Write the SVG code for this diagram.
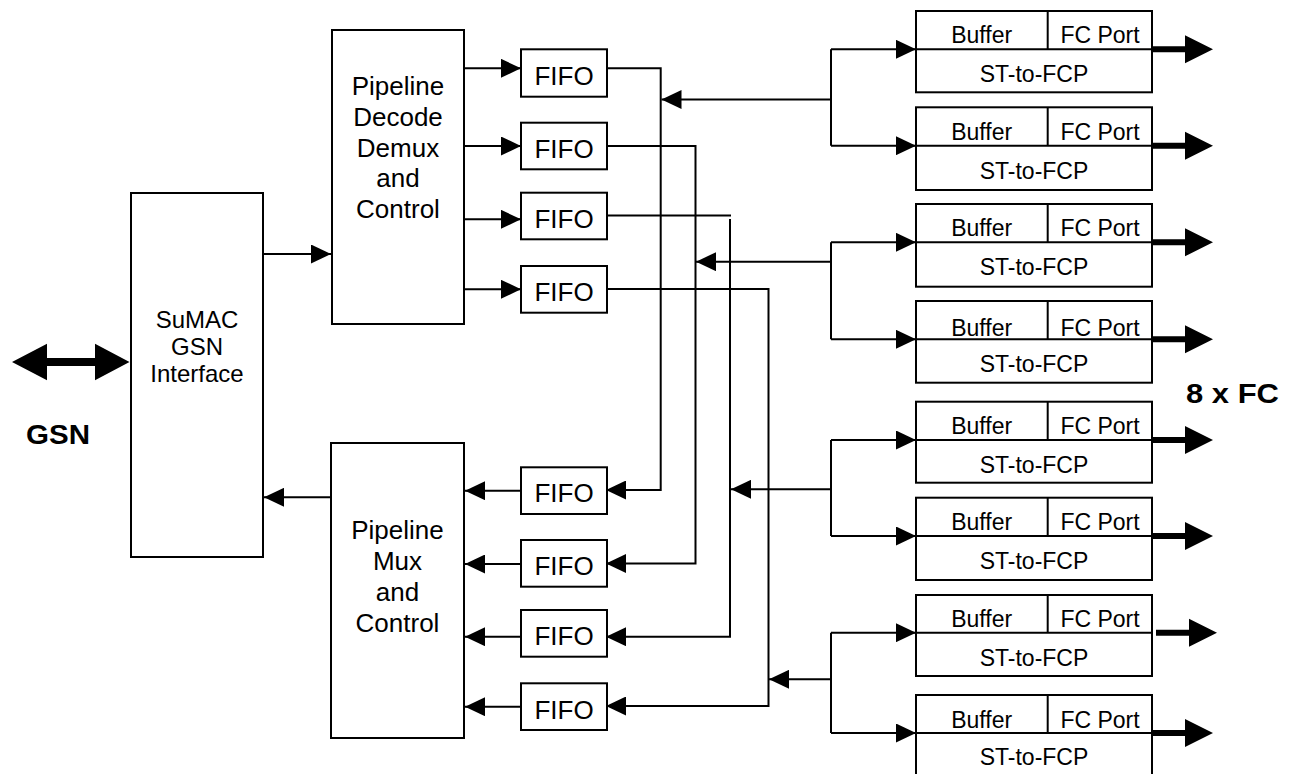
<svg xmlns="http://www.w3.org/2000/svg" width="1293" height="774" viewBox="0 0 1293 774">
<style>
.box{fill:#fff;stroke:#000;stroke-width:2}
.ln{fill:none;stroke:#000;stroke-width:2}
.t{font-family:"Liberation Sans",Arial,sans-serif;font-size:26px;text-anchor:middle;fill:#000}
.t2{font-family:"Liberation Sans",Arial,sans-serif;font-size:24px;text-anchor:middle;fill:#000}
.s{font-family:"Liberation Sans",Arial,sans-serif;font-size:23px;text-anchor:middle;fill:#000}
.b{font-family:"Liberation Sans",Arial,sans-serif;font-size:28px;font-weight:bold;fill:#000}
.thick{fill:#000;stroke:none}
</style>
<defs>
<marker id="ah" viewBox="0 0 20 19" markerWidth="20" markerHeight="19" refX="20" refY="9.5" orient="auto" markerUnits="userSpaceOnUse">
<path d="M0,0 L20,9.5 L0,19 z" fill="#000"/>
</marker>
</defs>
<rect width="1293" height="774" fill="#fff"/>

<g id="connectors">
<!-- GSN double arrow -->
<polygon class="thick" points="12,362 47,343.7 47,358 95,358 95,343.7 129.5,362 95,380.3 95,366 47,366 47,380.3"/>
<!-- SuMAC <-> pipelines -->
<line class="ln" x1="263" y1="254" x2="331" y2="254" marker-end="url(#ah)"/>
<line class="ln" x1="331" y1="497.3" x2="264" y2="497.3" marker-end="url(#ah)"/>
<!-- decode to FIFOs -->
<line class="ln" x1="464" y1="68.3" x2="521" y2="68.3" marker-end="url(#ah)"/>
<line class="ln" x1="464" y1="146" x2="521" y2="146" marker-end="url(#ah)"/>
<line class="ln" x1="464" y1="219.3" x2="521" y2="219.3" marker-end="url(#ah)"/>
<line class="ln" x1="464" y1="289.3" x2="521" y2="289.3" marker-end="url(#ah)"/>
<!-- FIFOs to mux -->
<line class="ln" x1="521" y1="490.7" x2="465" y2="490.7" marker-end="url(#ah)"/>
<line class="ln" x1="521" y1="564" x2="465" y2="564" marker-end="url(#ah)"/>
<line class="ln" x1="521" y1="636.7" x2="465" y2="636.7" marker-end="url(#ah)"/>
<line class="ln" x1="521" y1="706.7" x2="465" y2="706.7" marker-end="url(#ah)"/>
<!-- FIFO loop wires -->
<path class="ln" d="M607,68.3 H660.7 V490 H606" marker-end="url(#ah)"/>
<path class="ln" d="M607,146 H695.5 V563.5 H606" marker-end="url(#ah)"/>
<path class="ln" d="M607,215.5 H731"/>
<path class="ln" d="M730,219 V636.7 H606" marker-end="url(#ah)"/>
<path class="ln" d="M607,289 H768.5 V706 H606" marker-end="url(#ah)"/>
<!-- branches to FC boxes -->
<path class="ln" d="M831,49.3 V145.7"/>
<line class="ln" x1="831" y1="49.3" x2="916" y2="49.3" marker-end="url(#ah)"/>
<line class="ln" x1="831" y1="145.7" x2="916" y2="145.7" marker-end="url(#ah)"/>
<line class="ln" x1="831" y1="99.5" x2="661.5" y2="99.5" marker-end="url(#ah)"/>

<path class="ln" d="M831,242.3 V339.3"/>
<line class="ln" x1="831" y1="242.3" x2="916" y2="242.3" marker-end="url(#ah)"/>
<line class="ln" x1="831" y1="339.3" x2="916" y2="339.3" marker-end="url(#ah)"/>
<line class="ln" x1="831" y1="261.7" x2="696" y2="261.7" marker-end="url(#ah)"/>

<path class="ln" d="M831,440 V536"/>
<line class="ln" x1="831" y1="440" x2="916" y2="440" marker-end="url(#ah)"/>
<line class="ln" x1="831" y1="536" x2="916" y2="536" marker-end="url(#ah)"/>
<line class="ln" x1="831" y1="489.3" x2="731" y2="489.3" marker-end="url(#ah)"/>

<path class="ln" d="M831,632.7 V733"/>
<line class="ln" x1="831" y1="632.7" x2="916" y2="632.7" marker-end="url(#ah)"/>
<line class="ln" x1="831" y1="733" x2="916" y2="733" marker-end="url(#ah)"/>
<line class="ln" x1="831" y1="679.3" x2="769" y2="679.3" marker-end="url(#ah)"/>

<!-- thick FC output arrows -->
<polygon class="thick" points="1152,46.3 1185,46.3 1185,35.3 1213,49.3 1185,63.3 1185,52.3 1152,52.3"/>
<polygon class="thick" points="1152,142.7 1185,142.7 1185,131.7 1213,145.7 1185,159.7 1185,148.7 1152,148.7"/>
<polygon class="thick" points="1152,239.3 1185,239.3 1185,228.3 1213,242.3 1185,256.3 1185,245.3 1152,245.3"/>
<polygon class="thick" points="1152,336.3 1185,336.3 1185,325.3 1213,339.3 1185,353.3 1185,342.3 1152,342.3"/>
<polygon class="thick" points="1152,437 1185,437 1185,426 1213,440 1185,454 1185,443 1152,443"/>
<polygon class="thick" points="1152,533 1185,533 1185,522 1213,536 1185,550 1185,539 1152,539"/>
<polygon class="thick" points="1156,629.7 1189,629.7 1189,618.7 1217,632.7 1189,646.7 1189,635.7 1156,635.7"/>
<polygon class="thick" points="1152,730 1185,730 1185,719 1213,733 1185,747 1185,736 1152,736"/>
</g>

<g id="sumac">
<rect class="box" x="131" y="193" width="132" height="364"/>
<text class="t2" x="197" y="328">SuMAC</text>
<text class="t2" x="197" y="355">GSN</text>
<text class="t2" x="197" y="382">Interface</text>
</g>
<g id="gsn-label"><text class="b" x="26" y="443.5" textLength="64" lengthAdjust="spacingAndGlyphs">GSN</text></g>

<g id="decode">
<rect class="box" x="332" y="30" width="132" height="294"/>
<text class="t" x="398" y="95">Pipeline</text>
<text class="t" x="398" y="125.8">Decode</text>
<text class="t" x="398" y="156.6">Demux</text>
<text class="t" x="398" y="187.4">and</text>
<text class="t" x="398" y="218.2">Control</text>
</g>

<g id="mux">
<rect class="box" x="331" y="443" width="133" height="295"/>
<text class="t" x="397.5" y="539.3">Pipeline</text>
<text class="t" x="397.5" y="570.1">Mux</text>
<text class="t" x="397.5" y="600.9">and</text>
<text class="t" x="397.5" y="631.7">Control</text>
</g>

<g id="fifo1"><rect class="box" x="521" y="49.3" width="86" height="47.4"/><text class="t" x="564" y="85">FIFO</text></g>
<g id="fifo2"><rect class="box" x="521" y="122.7" width="86" height="46.6"/><text class="t" x="564" y="157.7">FIFO</text></g>
<g id="fifo3"><rect class="box" x="521" y="192.7" width="86" height="46.6"/><text class="t" x="564" y="227.5">FIFO</text></g>
<g id="fifo4"><rect class="box" x="521" y="266" width="86" height="46.7"/><text class="t" x="564" y="301">FIFO</text></g>
<g id="fifo5"><rect class="box" x="521" y="467.3" width="86" height="46.7"/><text class="t" x="564" y="502.3">FIFO</text></g>
<g id="fifo6"><rect class="box" x="521" y="540" width="86" height="46.7"/><text class="t" x="564" y="575.3">FIFO</text></g>
<g id="fifo7"><rect class="box" x="521" y="610" width="86" height="46.7"/><text class="t" x="564" y="645.3">FIFO</text></g>
<g id="fifo8"><rect class="box" x="521" y="683.3" width="86" height="46.7"/><text class="t" x="564" y="718.5">FIFO</text></g>

<g id="fc1"><rect class="box" x="916" y="11" width="236" height="81.3"/><line class="ln" x1="916" y1="49.3" x2="1152" y2="49.3"/><line class="ln" x1="1047.7" y1="11" x2="1047.7" y2="49.3"/><text class="s" x="981.7" y="43.3">Buffer</text><text class="s" x="1100" y="43.3">FC Port</text><text class="s" x="1034" y="82.3">ST-to-FCP</text></g>
<g id="fc2"><rect class="box" x="916" y="107.3" width="236" height="82.7"/><line class="ln" x1="916" y1="145.7" x2="1152" y2="145.7"/><line class="ln" x1="1047.7" y1="107.3" x2="1047.7" y2="145.7"/><text class="s" x="981.7" y="139.6">Buffer</text><text class="s" x="1100" y="139.6">FC Port</text><text class="s" x="1034" y="178.7">ST-to-FCP</text></g>
<g id="fc3"><rect class="box" x="916" y="204" width="236" height="82.7"/><line class="ln" x1="916" y1="242.3" x2="1152" y2="242.3"/><line class="ln" x1="1047.7" y1="204" x2="1047.7" y2="242.3"/><text class="s" x="981.7" y="236.3">Buffer</text><text class="s" x="1100" y="236.3">FC Port</text><text class="s" x="1034" y="275.3">ST-to-FCP</text></g>
<g id="fc4"><rect class="box" x="916" y="301" width="236" height="81.7"/><text class="s" x="981.7" y="336">Buffer</text><text class="s" x="1100" y="336">FC Port</text><line class="ln" x1="916" y1="339.3" x2="1152" y2="339.3"/><line class="ln" x1="1047.7" y1="301" x2="1047.7" y2="339.3"/><text class="s" x="1034" y="372.3">ST-to-FCP</text></g>
<g id="fc5"><rect class="box" x="916" y="401.7" width="236" height="81"/><line class="ln" x1="916" y1="440" x2="1152" y2="440"/><line class="ln" x1="1047.7" y1="401.7" x2="1047.7" y2="440"/><text class="s" x="981.7" y="434">Buffer</text><text class="s" x="1100" y="434">FC Port</text><text class="s" x="1034" y="473">ST-to-FCP</text></g>
<g id="fc6"><rect class="box" x="916" y="497.7" width="236" height="82.3"/><line class="ln" x1="916" y1="536" x2="1152" y2="536"/><line class="ln" x1="1047.7" y1="497.7" x2="1047.7" y2="536"/><text class="s" x="981.7" y="530">Buffer</text><text class="s" x="1100" y="530">FC Port</text><text class="s" x="1034" y="569">ST-to-FCP</text></g>
<g id="fc7"><rect class="box" x="916" y="595" width="236" height="81"/><line class="ln" x1="916" y1="632.7" x2="1152" y2="632.7"/><line class="ln" x1="1047.7" y1="595" x2="1047.7" y2="632.7"/><text class="s" x="981.7" y="627">Buffer</text><text class="s" x="1100" y="627">FC Port</text><text class="s" x="1034" y="665.7">ST-to-FCP</text></g>
<g id="fc8"><rect class="box" x="916" y="695" width="236" height="85"/><line class="ln" x1="916" y1="733" x2="1152" y2="733"/><line class="ln" x1="1047.7" y1="695" x2="1047.7" y2="733"/><text class="s" x="981.7" y="727.5">Buffer</text><text class="s" x="1100" y="727.5">FC Port</text><text class="s" x="1034" y="765">ST-to-FCP</text></g>

<g id="fc-label"><text class="b" x="1186" y="403.3" textLength="93" lengthAdjust="spacingAndGlyphs">8 x FC</text></g>
</svg>
